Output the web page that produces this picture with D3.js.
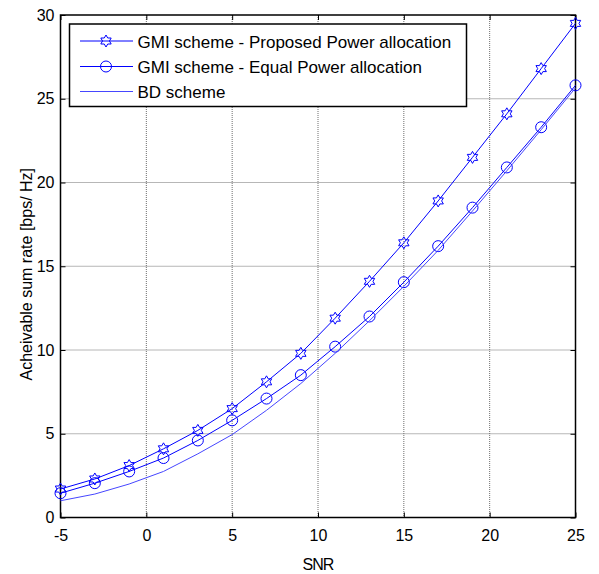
<!DOCTYPE html>
<html>
<head>
<meta charset="utf-8">
<script src="https://cdn.jsdelivr.net/npm/d3@7"></script>
<style>
  body { margin: 0; background: #fff; }
  svg { display: block; }
  text { font-family: "Liberation Sans", Arial, sans-serif; fill: #000; }
</style>
</head>
<body>
<svg id="chart" width="599" height="574"></svg>
<script>
// SNR sample points (dB)
const snr = [-5, -3, -1, 1, 3, 5, 7, 9, 11, 13, 15, 17, 19, 21, 23, 25];
// Achievable sum rate [bps/Hz]
const gmiProposed = [1.7, 2.3, 3.1, 4.1, 5.2, 6.5, 8.1, 9.8, 11.9, 14.1, 16.4, 18.9, 21.5, 24.1, 26.8, 29.5];
const gmiEqual    = [1.45, 2.05, 2.75, 3.55, 4.6, 5.8, 7.1, 8.5, 10.2, 12.0, 14.05, 16.2, 18.5, 20.9, 23.3, 25.8];
const bdScheme    = [1.0, 1.4, 2.0, 2.75, 3.8, 4.95, 6.4, 8.0, 9.8, 11.75, 13.8, 15.95, 18.3, 20.7, 23.15, 25.65];
const xTicks = [-5, 0, 5, 10, 15, 20, 25];
const yTicks = [0, 5, 10, 15, 20, 25, 30];
const legendLabels = [
  "GMI scheme - Proposed Power allocation",
  "GMI scheme - Equal Power allocation",
  "BD scheme"
];

const svg = d3.select("#chart");
const mLeft = 60.5, mRight = 575.5, mTop = 15, mBottom = 517.5;

const x = d3.scaleLinear().domain([-5, 25]).range([mLeft, mRight]);
const y = d3.scaleLinear().domain([0, 30]).range([mBottom, mTop]);

// dotted grid
const grid = svg.append("g");
grid.selectAll(".gx").data(xTicks.slice(1, -1)).enter().append("line")
  .attr("x1", d => x(d)).attr("x2", d => x(d)).attr("y1", mTop).attr("y2", mBottom)
  .attr("stroke", "#6e6e6e").attr("stroke-width", 1).attr("stroke-dasharray", "1,1");
grid.selectAll(".gy").data(yTicks.slice(1, -1)).enter().append("line")
  .attr("y1", d => y(d)).attr("y2", d => y(d)).attr("x1", mLeft).attr("x2", mRight)
  .attr("stroke", "#6e6e6e").attr("stroke-width", 1).attr("stroke-dasharray", "1,1");

// axes with inward ticks; labels use a plain hyphen for negatives
const tickLen = 5;
const fmt = d => String(d);
const xAxis = d3.axisBottom(x).tickValues(xTicks).tickFormat(fmt).tickSizeInner(-tickLen).tickSizeOuter(0).tickPadding(12);
const yAxis = d3.axisLeft(y).tickValues(yTicks).tickFormat(fmt).tickSizeInner(-tickLen).tickSizeOuter(0).tickPadding(6);
const xTop = d3.axisTop(x).tickValues(xTicks).tickSizeInner(-tickLen).tickSizeOuter(0).tickFormat("");
const yRight = d3.axisRight(y).tickValues(yTicks).tickSizeInner(-tickLen).tickSizeOuter(0).tickFormat("");

function styleAxis(g) {
  g.select(".domain").remove();
  g.selectAll(".tick line").attr("stroke", "#000").attr("stroke-width", 1);
  g.selectAll(".tick text").style("font-family", "Liberation Sans, Arial, sans-serif").style("font-size", "16px").attr("fill", "#000");
}
svg.append("g").attr("transform", `translate(0,${mBottom})`).call(xAxis).call(styleAxis);
svg.append("g").attr("transform", `translate(${mLeft},0)`).call(yAxis).call(styleAxis);
svg.append("g").attr("transform", `translate(0,${mTop})`).call(xTop).call(styleAxis);
svg.append("g").attr("transform", `translate(${mRight},0)`).call(yRight).call(styleAxis);

// plot box
svg.append("rect").attr("x", mLeft).attr("y", mTop).attr("width", mRight - mLeft).attr("height", mBottom - mTop)
  .attr("fill", "none").attr("stroke", "#000").attr("stroke-width", 1.5);

// hexagram marker path (two overlapping triangles)
function hexagram(r) {
  const pts = [];
  const ri = r / Math.sqrt(3);
  for (let i = 0; i < 12; i++) {
    const a = -Math.PI / 2 + i * Math.PI / 6;
    const rr = i % 2 === 0 ? r : ri;
    pts.push([rr * Math.cos(a), rr * Math.sin(a)]);
  }
  return "M" + pts.map(p => p[0].toFixed(2) + "," + p[1].toFixed(2)).join("L") + "Z";
}

const line = d3.line().x(d => x(d[0])).y(d => y(d[1]));
const blue = "#0000ff";
const series = [
  { vals: gmiProposed, width: 1, color: blue, marker: "hex" },
  { vals: gmiEqual, width: 1, color: blue, marker: "circle" },
  { vals: bdScheme, width: 1, color: "#4646ff", marker: null }
];

const plot = svg.append("g");
series.forEach(s => {
  const pts = snr.map((v, i) => [v, s.vals[i]]);
  plot.append("path").attr("d", line(pts)).attr("fill", "none")
    .attr("stroke", s.color).attr("stroke-width", s.width);
  if (s.marker === "hex") {
    plot.selectAll(null).data(pts).enter().append("path")
      .attr("d", hexagram(6)).attr("transform", d => `translate(${x(d[0])},${y(d[1])})`)
      .attr("fill", "none").attr("stroke", s.color).attr("stroke-width", 1);
  } else if (s.marker === "circle") {
    plot.selectAll(null).data(pts).enter().append("circle")
      .attr("cx", d => x(d[0])).attr("cy", d => y(d[1])).attr("r", 5.5)
      .attr("fill", "none").attr("stroke", s.color).attr("stroke-width", 1);
  }
});

// legend
const lg = svg.append("g");
const lgX = 69.5, lgY = 24, lgW = 397, lgH = 82.5;
lg.append("rect").attr("x", lgX).attr("y", lgY).attr("width", lgW).attr("height", lgH)
  .attr("fill", "#fff").attr("stroke", "#000").attr("stroke-width", 1.5);
const rowY = [41, 66.5, 91.5];
series.forEach((s, i) => {
  lg.append("line").attr("x1", 80).attr("x2", 133).attr("y1", rowY[i]).attr("y2", rowY[i])
    .attr("stroke", s.color).attr("stroke-width", s.width);
  if (s.marker === "hex") {
    lg.append("path").attr("d", hexagram(6)).attr("transform", `translate(106,${rowY[i]})`)
      .attr("fill", "none").attr("stroke", s.color);
  } else if (s.marker === "circle") {
    lg.append("circle").attr("cx", 106).attr("cy", rowY[i]).attr("r", 5.5)
      .attr("fill", "none").attr("stroke", s.color);
  }
  lg.append("text").attr("x", 137.5).attr("y", rowY[i] + 6.5)
    .style("font-size", "17px").text(legendLabels[i]);
});

// axis titles
svg.append("text").attr("x", 318).attr("y", 570).attr("text-anchor", "middle")
  .style("font-size", "16px").style("letter-spacing", "-1px").text("SNR");
svg.append("text").attr("transform", `translate(32,${(mTop + mBottom) / 2 + 8}) rotate(-90)`)
  .attr("text-anchor", "middle").style("font-size", "16px").text("Acheivable sum rate [bps/ Hz]");
</script>
</body>
</html>
